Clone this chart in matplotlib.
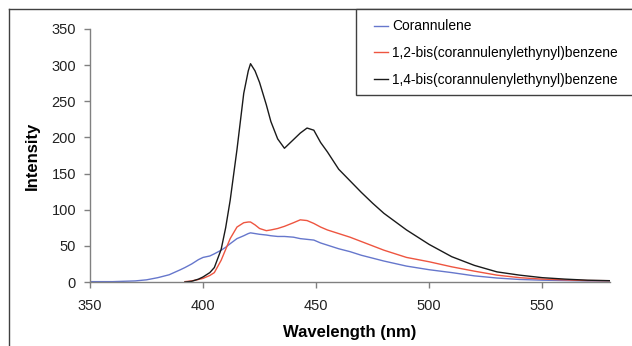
import numpy as np
import matplotlib
matplotlib.use('Agg')
import matplotlib.pyplot as plt
from matplotlib.lines import Line2D
from matplotlib.patches import Rectangle

plt.rcParams['font.family'] = ['Liberation Sans', 'DejaVu Sans']

# wavelength grid (nm)
wavelength = [350, 360, 370, 375, 380, 385, 390, 392, 395, 398, 400, 403, 405, 408,
              410, 412, 415, 418, 420, 421, 423, 425, 428, 430, 433, 436, 440, 443,
              446, 449, 452, 455, 460, 465, 470, 475, 480, 490, 500, 510, 520, 530,
              540, 550, 560, 570, 580]

corannulene = [0.5, 0.5, 1.5, 3, 6, 10, 17, 20, 25, 31, 34, 36, 39, 44,
               48, 53, 60, 64, 67, 68, 67, 66, 65, 64, 63, 63, 62, 60,
               59, 58, 54, 51, 46, 42, 37, 33, 29, 22, 17, 13, 8.5, 5.5,
               3.5, 2.5, 2, 1.5, 1.5]

bis_12 = [None, None, None, None, None, None, None, 0.5, 1.5, 3.5, 5, 9, 13, 30,
          45, 60, 76, 82, 83, 83, 79, 74, 71, 72, 74, 77, 82, 86,
          85, 81, 76, 72, 67, 62, 56, 50, 44, 34, 28, 21, 15, 9.5,
          6, 4, 3, 2, 1.8]

bis_14 = [None, None, None, None, None, None, None, 0, 1, 4, 7, 13, 20, 45,
          75, 113, 183, 261, 292, 302, 292, 276, 245, 222, 198, 185, 197, 206,
          213, 210, 193, 180, 156, 140, 124, 109, 95, 72, 52, 35, 23, 14,
          9.5, 6, 4, 2.5, 1.8]

series_names = ['Corannulene',
                '1,2-bis(corannulenylethynyl)benzene',
                '1,4-bis(corannulenylethynyl)benzene']
series_colors = ['#6677CC', '#EE5540', '#1A1A1A']

W, H = 632, 346
fig = plt.figure(figsize=(W / 100, H / 100), dpi=100)
ax = fig.add_axes([90 / W, 1 - 282 / H, 520 / W, 253 / H])

for vals, name, col in zip([corannulene, bis_12, bis_14], series_names, series_colors):
    y = np.array([np.nan if v is None else v for v in vals], dtype=float)
    ax.plot(wavelength, y, color=col, lw=1.0, label=name)

ax.set_xlim(350, 580)
ax.set_ylim(0, 350)
ax.set_xticks([350, 400, 450, 500, 550])
ax.set_yticks(range(0, 351, 50))

for s in ['top', 'right']:
    ax.spines[s].set_visible(False)
for s in ['left', 'bottom']:
    ax.spines[s].set_color('#808080')
    ax.spines[s].set_linewidth(1.0)

ax.tick_params(axis='x', direction='out', length=4, width=1, color='#808080',
               pad=8, labelsize=10.5, labelcolor='#222222')
ax.tick_params(axis='y', direction='out', length=4.5, width=1, color='#808080',
               pad=5.5, labelsize=10.5, labelcolor='#222222')

ax.set_xlabel('Wavelength (nm)', fontsize=12, fontweight='bold', va='center')
ax.set_ylabel('Intensity', fontsize=12, fontweight='bold', va='center')
ax.xaxis.set_label_coords(0.5, (282 - 333) / 253)
ax.yaxis.set_label_coords((32 - 90) / 520, 0.5)

# outer frame (left and top edges visible)
fx, fy = 9 / W, 1 - 9 / H
fig.add_artist(Line2D([fx, fx], [0, fy], transform=fig.transFigure, color='#404040', lw=1))
fig.add_artist(Line2D([fx, 1], [fy, fy], transform=fig.transFigure, color='#404040', lw=1))

# legend box
fig.add_artist(Rectangle((356 / W, 1 - 95 / H), (W + 10 - 356) / W, (95 - 9) / H,
                         transform=fig.transFigure, fill=True, facecolor='white',
                         edgecolor='#404040', lw=1, zorder=3))
leg = fig.legend(loc='upper left', bbox_to_anchor=(374 / W, 1 - 19.5 / H),
                 frameon=False, fontsize=9.9, borderpad=0, borderaxespad=0,
                 handlelength=1.0, handletextpad=0.3, labelspacing=0.93)
leg.set_zorder(4)

fig.savefig('out.png', dpi=100)
